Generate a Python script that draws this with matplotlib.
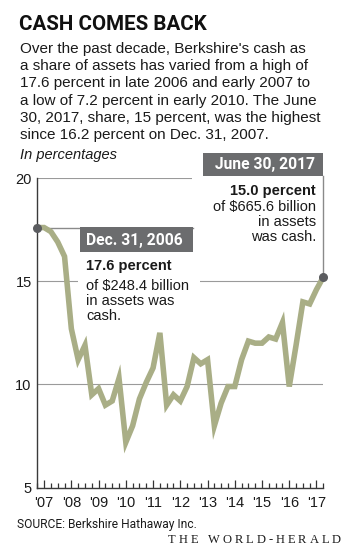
import numpy as np
import pandas as pd
import matplotlib
matplotlib.use('Agg')
import matplotlib.pyplot as plt
from matplotlib.patches import Rectangle

# Berkshire cash as a share of total assets, quarterly, Dec. 31 2006 .. June 30 2017
quarters = [str(q) for q in pd.period_range('2006Q4', '2017Q2', freq='Q')]
cash_share = [17.6, 17.6, 17.4, 16.9, 16.2, 12.7, 11.2, 11.9, 9.5, 9.8,
              9.0, 9.2, 10.3, 7.2, 8.0, 9.3, 10.1, 10.8, 12.5, 9.0,
              9.5, 9.2, 9.9, 11.3, 11.0, 11.2, 8.0, 9.1, 9.9, 9.9,
              11.2, 12.1, 12.0, 12.0, 12.3, 12.2, 13.0, 9.9, 11.9, 14.0,
              13.9, 14.6, 15.2]
year_labels = ["'07", "'08", "'09", "'10", "'11", "'12", "'13", "'14", "'15", "'16", "'17"]
y_ticks = [5, 10, 15, 20]

LINE = '#a9ae86'
DOT = '#5b5c60'
BOX = '#6b6c6e'
GRID = '#9a9a9a'
NARROW = ['Roboto', 'DejaVu Sans']
BODY = ['Liberation Sans', 'DejaVu Sans']
SERIF = ['Liberation Serif', 'DejaVu Serif']

W, H = 351, 554
fig = plt.figure(figsize=(W / 100, H / 100), dpi=100)
renderer = fig.canvas.get_renderer()


def fx(px):
    return px / W


def fy(py):
    return 1 - py / H


def ftext(px, py, s, **kw):
    kw.setdefault('va', 'baseline')
    kw.setdefault('family', BODY)
    kw.setdefault('color', '#1a1a1a')
    return fig.text(fx(px), fy(py), s, **kw)


def text_width(s, **kw):
    t = fig.text(0, 0, s, **kw)
    w = t.get_window_extent(renderer).width
    t.remove()
    return w


def fit_size(s, width_px, max_size, **kw):
    # shrink font until the string is no wider than in the reference
    w = text_width(s, fontsize=10, **kw)
    return min(max_size, 10 * width_px / w)


ax = fig.add_axes([fx(37.3), fy(487.7), fx(323.3) - fx(37.3), fy(178) - fy(487.7)])
x = np.arange(len(cash_share))
ax.set_xlim(x[0], x[-1])
ax.set_ylim(5, 20)

to_data = ax.transData.inverted()


def pdata(px, py):
    return to_data.transform((px, H - py))


# grid + axes styling
ax.set_yticks(y_ticks)
ax.set_yticklabels([str(v) for v in y_ticks], family=BODY, fontsize=10.5)
ax.yaxis.grid(True, color=GRID, lw=0.8)
ax.set_axisbelow(True)
ax.tick_params(axis='y', length=0, pad=4, colors='#1a1a1a')
major = [i for i, q in enumerate(quarters) if q.endswith('Q1')]
ax.set_xticks(major)
ax.set_xticklabels(year_labels, family=BODY, fontsize=10.5)
ax.set_xticks(x, minor=True)
ax.tick_params(axis='x', which='major', direction='in', length=5.5, width=0.9,
               pad=6, colors='#333333', labelcolor='#1a1a1a')
ax.tick_params(axis='x', which='minor', direction='in', length=3.3, width=0.9, colors='#333333')
for s in ['top', 'right']:
    ax.spines[s].set_visible(False)
for s in ['left', 'bottom']:
    ax.spines[s].set_color('#3a3a3a')
    ax.spines[s].set_linewidth(1.0)

# white areas behind annotation text (break the gridlines)
for (l, t, r, b) in [(78, 252, 200, 326), (192, 150, 323.3, 246)]:
    x0, y0 = pdata(l, b)
    x1, y1 = pdata(r, t)
    ax.add_patch(Rectangle((x0, y0), x1 - x0, y1 - y0, facecolor='white',
                           edgecolor='none', zorder=1, clip_on=False))

# leader lines
bx1, _ = pdata(193, 0)
ax.plot([x[0], bx1], [cash_share[0], cash_share[0]], color='#8a8a8a', lw=1, zorder=2)
_, by2 = pdata(0, 176)
ax.plot([x[-1], x[-1]], [cash_share[-1], by2], color='#8a8a8a', lw=1, zorder=2, clip_on=False)

ax.plot(x, cash_share, color=LINE, lw=4.0, zorder=3, clip_on=False, solid_joinstyle='miter')
ax.scatter([x[0], x[-1]], [cash_share[0], cash_share[-1]], s=30, color=DOT, zorder=5, clip_on=False)

# header
title = 'CASH COMES BACK'
ftext(19, 30, title, family=NARROW, fontweight='bold', color='#111111',
      fontsize=fit_size(title, 188, 17, family=NARROW, fontweight='bold'))
body = ["Over the past decade, Berkshire's cash as",
        "a share of assets has varied from a high of",
        "17.6 percent in late 2006 and early 2007 to",
        "a low of 7.2 percent in early 2010. The June",
        "30, 2017, share, 15 percent, was the highest",
        "since 16.2 percent on Dec. 31, 2007."]
for k, line in enumerate(body):
    ftext(20, 52.7 + k * 17.3, line, fontsize=11)
ftext(20, 159, 'In percentages', fontsize=10.5, style='italic')

# annotation boxes
lab1, lab2 = 'Dec. 31, 2006', 'June 30, 2017'
lab_size = fit_size(lab1, 97, 11.5, family=NARROW, fontweight='bold')
fig.patches.append(Rectangle((fx(80), fy(251.7)), fx(193) - fx(80), fy(226.7) - fy(251.7),
                             transform=fig.transFigure, facecolor=BOX, edgecolor='none'))
ftext(86, 244.5, lab1, family=NARROW, fontweight='bold', fontsize=lab_size, color='white')
ftext(86, 270, '17.6 percent', fontweight='bold', fontsize=10.5)
for k, line in enumerate(['of $248.4 billion', 'in assets was', 'cash.']):
    ftext(86, 290 + k * 15.2, line, fontsize=10.5)

fig.patches.append(Rectangle((fx(203), fy(176)), fx(323.3) - fx(203), fy(153) - fy(176),
                             transform=fig.transFigure, facecolor=BOX, edgecolor='none'))
ftext(315, 169.5, lab2, family=NARROW, fontweight='bold', fontsize=lab_size,
      color='white', ha='right')
ftext(316, 195, '15.0 percent', fontweight='bold', fontsize=10.5, ha='right')
for k, line in enumerate(['of $665.6 billion', 'in assets', 'was cash.']):
    ftext(316, 210.5 + k * 15.3, line, fontsize=10.5, ha='right')

# footer
source = 'SOURCE: Berkshire Hathaway Inc.'
ftext(17, 528, source, family=NARROW,
      fontsize=fit_size(source, 180, 10, family=NARROW))

# masthead with wide letter spacing
masthead = 'THE WORLD-HERALD'
widths = [text_width(c if c != ' ' else 'I', family=SERIF, fontsize=9) for c in masthead]
left, right = 168, 341
gap = (right - left - sum(widths)) / (len(masthead) - 1)
pos = left
for c, w in zip(masthead, widths):
    if c != ' ':
        ftext(pos, 543.3, c, family=SERIF, fontsize=9)
    pos += w + gap

fig.savefig('out.png', dpi=100)
